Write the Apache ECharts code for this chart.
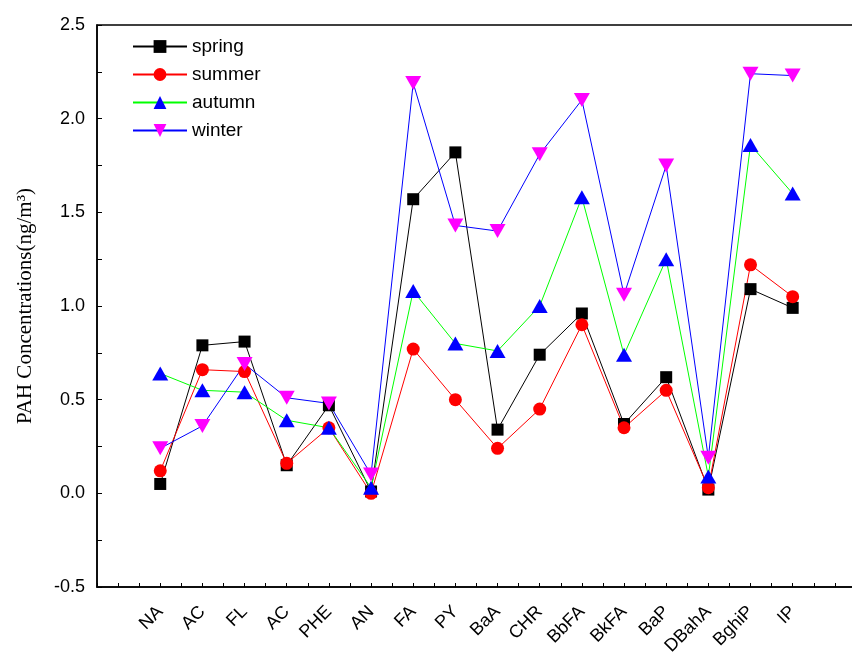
<!DOCTYPE html>
<html>
<head>
<meta charset="utf-8">
<script src="https://cdn.jsdelivr.net/npm/echarts@6/dist/echarts.min.js"></script>
<style>
  html, body { margin: 0; padding: 0; background: #fff; overflow: hidden; }
  #main { width: 880px; height: 671px; }
</style>
</head>
<body>
<div id="main"></div>
<script>
// PAH compounds along the x axis
var categories = ['NA', 'AC', 'FL', 'AC', 'PHE', 'AN', 'FA', 'PY', 'BaA', 'CHR', 'BbFA', 'BkFA', 'BaP', 'DBahA', 'BghiP', 'IP'];

// seasonal concentrations, ng/m3
var spring = [0.05, 0.79, 0.81, 0.15, 0.47, 0.01, 1.57, 1.82, 0.34, 0.74, 0.96, 0.37, 0.62, 0.02, 1.09, 0.99];
var summer = [0.12, 0.66, 0.65, 0.16, 0.35, 0.00, 0.77, 0.50, 0.24, 0.45, 0.90, 0.35, 0.55, 0.03, 1.22, 1.05];
var autumn = [0.64, 0.55, 0.54, 0.39, 0.35, 0.03, 1.08, 0.80, 0.76, 1.00, 1.58, 0.74, 1.25, 0.09, 1.86, 1.60];
var winter = [0.24, 0.36, 0.69, 0.51, 0.48, 0.10, 2.19, 1.43, 1.40, 1.81, 2.10, 1.06, 1.75, 0.19, 2.24, 2.23];

var yTicks = [-0.5, 0.0, 0.5, 1.0, 1.5, 2.0, 2.5];

var myChart = echarts.init(document.getElementById('main'));

function pairs(arr) {
  return arr.map(function (v, i) { return [i, v]; });
}

function makeSeries(name, arr, symbol, size, lineColor, markColor) {
  return {
    name: name,
    type: 'line',
    data: pairs(arr),
    symbol: symbol,
    symbolSize: size,
    showAllSymbol: true,
    lineStyle: { color: lineColor, width: 1 },
    itemStyle: { color: markColor, borderWidth: 0 },
    emphasis: { disabled: true },
    animation: false
  };
}

var option = {
  backgroundColor: '#fff',
  // plot box runs past the right edge of the visible window, like the original
  grid: {
    left: 97, top: 25, bottom: 84, right: 3,
    show: true, borderColor: '#000', borderWidth: 1.5, backgroundColor: 'transparent'
  },
  legend: {
    orient: 'vertical',
    left: 127, top: 32,
    itemWidth: 54, itemHeight: 16, itemGap: 9,
    textStyle: { fontFamily: 'Liberation Sans, Arial', fontSize: 19, color: '#000' },
    data: ['spring', 'summer', 'autumn', 'winter']
  },
  xAxis: {
    type: 'value',
    min: -1.5, max: 17, interval: 0.5,
    splitLine: { show: false },
    axisLine: { onZero: false, lineStyle: { color: '#000', width: 1.5 } },
    axisTick: { inside: true, length: 4, lineStyle: { color: '#000' } },
    axisLabel: {
      rotate: 45,
      margin: 22,
      fontFamily: 'Liberation Sans, Arial',
      fontSize: 18,
      color: '#000',
      showMinLabel: true, showMaxLabel: true,
      formatter: function (v) {
        var i = Math.round(v);
        if (Math.abs(v - i) < 1e-6 && i >= 0 && i < categories.length) return categories[i];
        return '';
      }
    }
  },
  yAxis: {
    type: 'value',
    min: yTicks[0], max: yTicks[yTicks.length - 1], interval: 0.5,
    name: 'PAH Concentrations(ng/m³)',
    nameLocation: 'middle',
    nameGap: 61,
    nameTextStyle: { fontFamily: 'Liberation Serif, Times New Roman', fontSize: 21, color: '#000' },
    splitLine: { show: false },
    axisLine: { show: true, onZero: false, lineStyle: { color: '#000', width: 1.5 } },
    axisTick: { inside: true, length: 5, lineStyle: { color: '#000' } },
    minorTick: { show: true, splitNumber: 2, length: 5, lineStyle: { color: '#000' } },
    axisLabel: {
      margin: 12,
      fontFamily: 'Liberation Sans, Arial',
      fontSize: 18,
      color: '#000',
      formatter: function (v) { return v.toFixed(1); }
    }
  },
  series: [
    makeSeries('spring', spring, 'rect', 12, '#000000', '#000000'),
    makeSeries('summer', summer, 'circle', 13, '#ff0000', '#ff0000'),
    makeSeries('autumn', autumn, 'triangle', [16, 14], '#00ff00', '#0000ff'),
    makeSeries('winter', winter, 'path://M0,0 L10,0 L5,9 Z', [16, 14], '#0000ff', '#ff00ff')
  ]
};

myChart.setOption(option);
</script>
</body>
</html>
